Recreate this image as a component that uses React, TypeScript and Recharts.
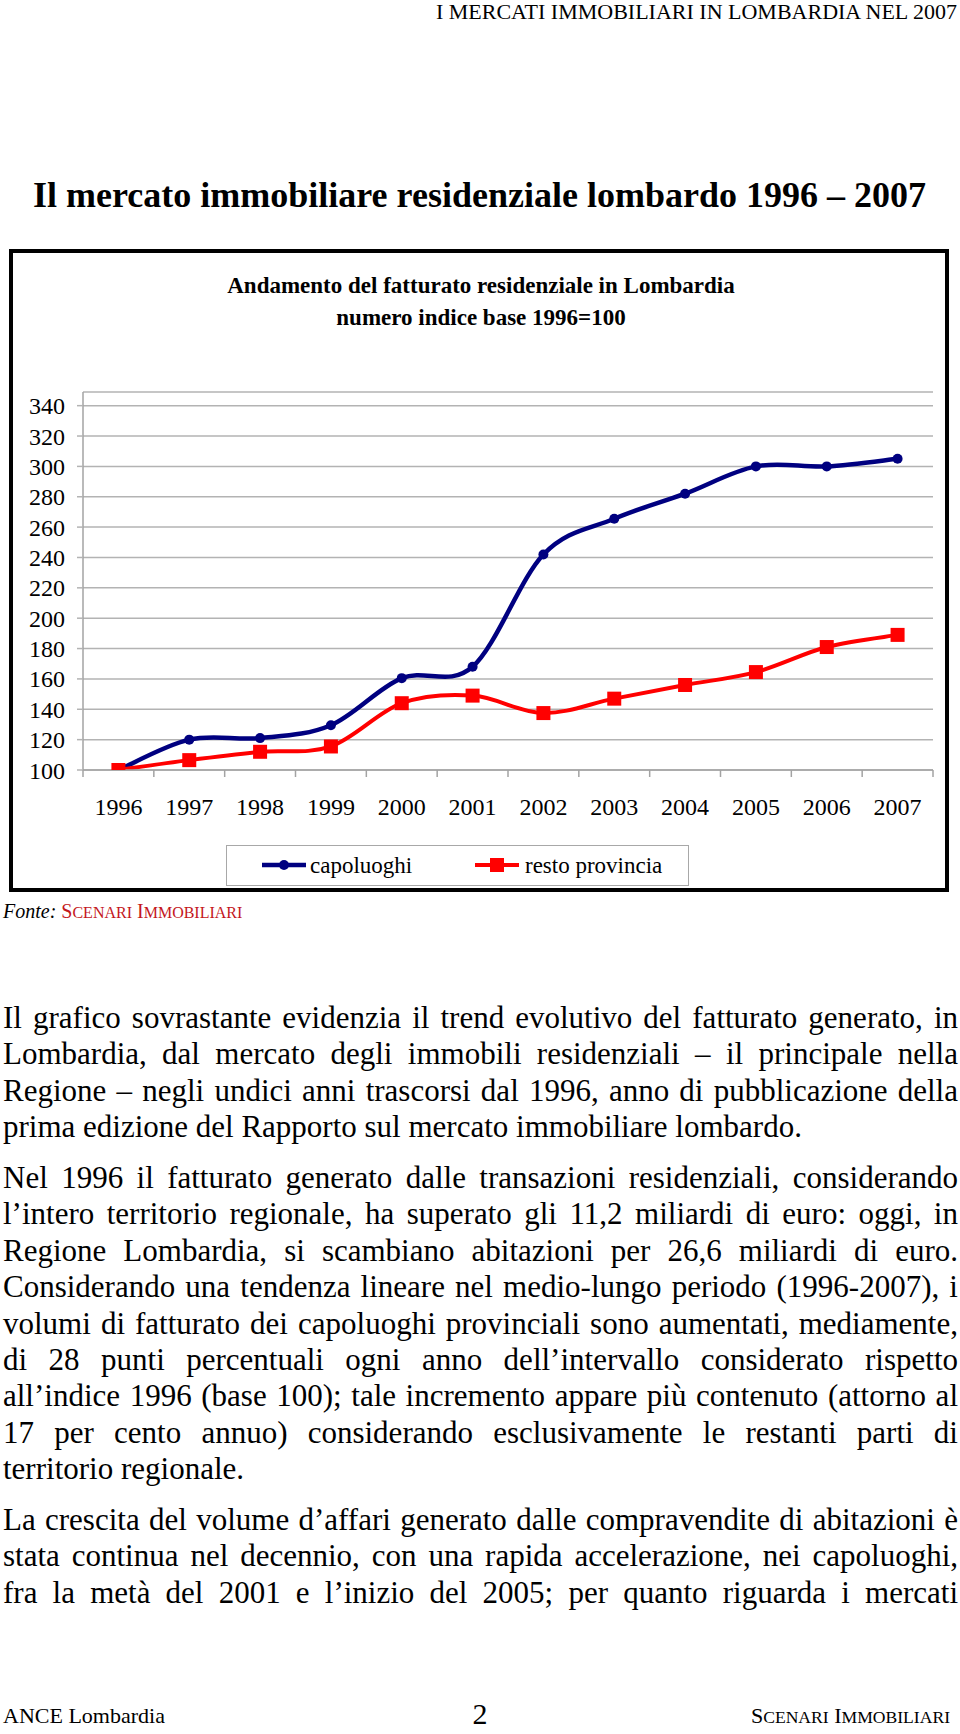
import React from 'react';
import { LineChart, Line, XAxis, YAxis, CartesianGrid, Legend } from 'recharts';

const SERIF = '"Liberation Serif", "Times New Roman", Times, serif';
const BLUE = '#000080';
const RED = '#ff0000';
const GRID = '#b3b3b3';
const AXIS = '#a3a3a3';

// ---- chart data ----
const years = ['1996', '1997', '1998', '1999', '2000', '2001', '2002', '2003', '2004', '2005', '2006', '2007'];
const capoluoghi = [100, 120, 121, 129.5, 160.5, 168, 242, 265.5, 282, 300, 300, 305];
const restoProvincia = [100, 106.5, 112, 115.5, 144, 149, 137.5, 147, 156, 164.5, 181, 189];
const yTicks = [100, 120, 140, 160, 180, 200, 220, 240, 260, 280, 300, 320, 340];
const seriesLabels = ['capoluoghi', 'resto provincia'];

const chartData = years.map((year, i) => ({
  idx: i,
  year,
  capoluoghi: capoluoghi[i],
  resto: restoProvincia[i],
}));

// ticks: integers carry year labels, half-integers are the category boundaries (tick marks)
const xTicks: number[] = [];
years.forEach((_, i) => {
  xTicks.push(i - 0.5, i);
});
xTicks.push(years.length - 0.5);

// Excel-like smoothed line (Catmull-Rom style bezier)
function excelSmooth(context: any) {
  let pts: number[][] = [];
  return {
    areaStart() {},
    areaEnd() {},
    lineStart() {
      pts = [];
    },
    point(x: number, y: number) {
      pts.push([+x, +y]);
    },
    lineEnd() {
      const n = pts.length;
      if (n === 0) return;
      context.moveTo(pts[0][0], pts[0][1]);
      if (n === 1) {
        context.lineTo(pts[0][0], pts[0][1]);
        return;
      }
      for (let i = 0; i < n - 1; i++) {
        const p0 = pts[Math.max(0, i - 1)];
        const p1 = pts[i];
        const p2 = pts[i + 1];
        const p3 = pts[Math.min(n - 1, i + 2)];
        context.bezierCurveTo(
          p1[0] + (p2[0] - p0[0]) / 6,
          p1[1] + (p2[1] - p0[1]) / 6,
          p2[0] - (p3[0] - p1[0]) / 6,
          p2[1] - (p3[1] - p1[1]) / 6,
          p2[0],
          p2[1]
        );
      }
    },
  };
}

const renderXTick = (props: any) => {
  const { x, y, payload, index } = props;
  const v = payload.value;
  if (Number.isInteger(v)) {
    return (
      <text key={`xt-${index}`} x={x} y={y + 45} textAnchor="middle" fontSize={24} fontFamily={SERIF} fill="#000">
        {years[v]}
      </text>
    );
  }
  return <line key={`xl-${index}`} x1={x} y1={y} x2={x} y2={y + 7} stroke={AXIS} strokeWidth={1.5} />;
};

const renderSquare = (props: any) => {
  const { cx, cy, index } = props;
  if (cx == null || cy == null) return <g key={`sq-${index}`} />;
  return <rect key={`sq-${index}`} x={cx - 7} y={cy - 7} width={14} height={14} fill={RED} />;
};

const renderLegend = (props: any) => {
  const payload = props.payload || [];
  const names = payload.length ? payload.map((p: any) => p.value) : seriesLabels;
  return (
    <div
      style={{
        position: 'relative',
        width: 463,
        height: 41,
        boxSizing: 'border-box',
        border: '1px solid #a8a8a8',
        background: '#fff',
        fontFamily: SERIF,
      }}
    >
      <svg style={{ position: 'absolute', left: 35, top: 9 }} width={44} height={20}>
        <line x1={0} y1={10} x2={44} y2={10} stroke={BLUE} strokeWidth={4.5} />
        <circle cx={22} cy={10} r={5} fill={BLUE} />
      </svg>
      <span style={{ position: 'absolute', left: 83, top: 7.7, fontSize: 23, lineHeight: '23px', whiteSpace: 'nowrap' }}>
        {names[0]}
      </span>
      <svg style={{ position: 'absolute', left: 248, top: 9 }} width={44} height={20}>
        <line x1={0} y1={10} x2={44} y2={10} stroke={RED} strokeWidth={4} />
        <rect x={15} y={3} width={14} height={14} fill={RED} />
      </svg>
      <span style={{ position: 'absolute', left: 298, top: 7.7, fontSize: 23, lineHeight: '23px', whiteSpace: 'nowrap' }}>
        {names[1]}
      </span>
    </div>
  );
};

const SmallCaps = ({ text, size }: { text: string; size: number }) => (
  <>
    {text.split(' ').map((w, i) => (
      <React.Fragment key={i}>
        {i > 0 ? ' ' : ''}
        {w[0]}
        <span style={{ fontSize: size * 0.8 }}>{w.slice(1).toUpperCase()}</span>
      </React.Fragment>
    ))}
  </>
);

const PF = 31;
const paraLines: { t: string; b: number; last?: boolean }[] = [
  { t: 'Il grafico sovrastante evidenzia il trend evolutivo del fatturato generato, in', b: 1028 },
  { t: 'Lombardia, dal mercato degli immobili residenziali – il principale nella', b: 1064.4 },
  { t: 'Regione – negli undici anni trascorsi dal 1996, anno di pubblicazione della', b: 1100.8 },
  { t: 'prima edizione del Rapporto sul mercato immobiliare lombardo.', b: 1137.2, last: true },
  { t: 'Nel 1996 il fatturato generato dalle transazioni residenziali, considerando', b: 1188 },
  { t: 'l’intero territorio regionale, ha superato gli 11,2 miliardi di euro: oggi, in', b: 1224.4 },
  { t: 'Regione Lombardia, si scambiano abitazioni per 26,6 miliardi di euro.', b: 1260.8 },
  { t: 'Considerando una tendenza lineare nel medio-lungo periodo (1996-2007), i', b: 1297.2 },
  { t: 'volumi di fatturato dei capoluoghi provinciali sono aumentati, mediamente,', b: 1333.6 },
  { t: 'di 28 punti percentuali ogni anno dell’intervallo considerato rispetto', b: 1370 },
  { t: 'all’indice 1996 (base 100); tale incremento appare più contenuto (attorno al', b: 1406.4 },
  { t: '17 per cento annuo) considerando esclusivamente le restanti parti di', b: 1442.8 },
  { t: 'territorio regionale.', b: 1479.2, last: true },
  { t: 'La crescita del volume d’affari generato dalle compravendite di abitazioni è', b: 1530 },
  { t: 'stata continua nel decennio, con una rapida accelerazione, nei capoluoghi,', b: 1566.4 },
  { t: 'fra la metà del 2001 e l’inizio del 2005; per quanto riguarda i mercati', b: 1602.8 },
];

const top = (baseline: number, size: number) => baseline - 0.8375 * size;

export default function App() {
  return (
    <div
      style={{
        position: 'absolute',
        left: 0,
        top: 0,
        width: 960,
        height: 1734,
        overflow: 'hidden',
        background: '#fff',
        fontFamily: SERIF,
        color: '#000',
      }}
    >
      {/* running header */}
      <div
        style={{
          position: 'absolute',
          right: 3,
          top: 0,
          fontSize: 22,
          lineHeight: '24px',
          whiteSpace: 'nowrap',
        }}
      >
        I MERCATI IMMOBILIARI IN LOMBARDIA NEL 2007
      </div>

      {/* page title */}
      <div
        style={{
          position: 'absolute',
          left: 33,
          top: top(207, 36),
          fontSize: 36,
          lineHeight: '36px',
          fontWeight: 'bold',
          whiteSpace: 'nowrap',
        }}
      >
        Il mercato immobiliare residenziale lombardo 1996 – 2007
      </div>

      {/* chart frame */}
      <div
        style={{
          position: 'absolute',
          left: 9,
          top: 249,
          width: 940,
          height: 643,
          border: '4px solid #000',
          boxSizing: 'border-box',
        }}
      />

      {/* chart title */}
      <div
        style={{
          position: 'absolute',
          left: 9,
          width: 944,
          top: top(293, 23),
          fontSize: 23,
          lineHeight: '23px',
          fontWeight: 'bold',
          textAlign: 'center',
          whiteSpace: 'nowrap',
        }}
      >
        Andamento del fatturato residenziale in Lombardia
      </div>
      <div
        style={{
          position: 'absolute',
          left: 9,
          width: 944,
          top: top(325, 23),
          fontSize: 23,
          lineHeight: '23px',
          fontWeight: 'bold',
          textAlign: 'center',
          whiteSpace: 'nowrap',
        }}
      >
        numero indice base 1996=100
      </div>

      {/* chart */}
      <div style={{ position: 'absolute', left: 0, top: 380, width: 960, height: 520 }}>
        <LineChart width={960} height={520} data={chartData} margin={{ top: 12, right: 27, bottom: 0, left: 0 }}>
          <CartesianGrid vertical={false} stroke={GRID} strokeWidth={1.5} />
          <XAxis
            dataKey="idx"
            type="number"
            domain={[-0.5, years.length - 0.5]}
            ticks={xTicks}
            interval={0}
            allowDecimals
            tickSize={0}
            tickMargin={0}
            tickLine={false}
            axisLine={{ stroke: AXIS, strokeWidth: 1.5 }}
            tick={renderXTick}
            height={130}
          />
          <YAxis
            type="number"
            domain={[100, 349]}
            ticks={yTicks}
            interval={0}
            width={83}
            tickSize={6}
            tickMargin={12}
            tickLine={{ stroke: GRID, strokeWidth: 1.5 }}
            axisLine={{ stroke: AXIS, strokeWidth: 1.5 }}
            tick={{ fontSize: 24, fill: '#000', fontFamily: SERIF }}
            allowDataOverflow
          />
          <Legend
            content={renderLegend}
            layout="horizontal"
            verticalAlign="middle"
            align="center"
            wrapperStyle={{ left: 226, top: 465, width: 463, height: 41 }}
          />
          <Line
            dataKey="capoluoghi"
            name={seriesLabels[0]}
            type={excelSmooth as any}
            stroke={BLUE}
            strokeWidth={4.5}
            dot={{ r: 5, fill: BLUE, stroke: BLUE, strokeWidth: 0 }}
            activeDot={false}
            isAnimationActive={false}
          />
          <Line
            dataKey="resto"
            name={seriesLabels[1]}
            type={excelSmooth as any}
            stroke={RED}
            strokeWidth={4}
            dot={renderSquare}
            activeDot={false}
            isAnimationActive={false}
          />
        </LineChart>
      </div>

      {/* source */}
      <div
        style={{
          position: 'absolute',
          left: 3,
          top: top(918, 20),
          fontSize: 20,
          lineHeight: '20px',
          whiteSpace: 'nowrap',
        }}
      >
        <i>Fonte:</i>{' '}
        <span style={{ color: '#c4161c' }}>
          <SmallCaps text="Scenari Immobiliari" size={20} />
        </span>
      </div>

      {/* body text */}
      {paraLines.map((l, i) => (
        <div
          key={i}
          style={{
            position: 'absolute',
            left: 3,
            width: 955,
            top: top(l.b, PF),
            fontSize: PF,
            lineHeight: `${PF}px`,
            textAlign: l.last ? 'left' : 'justify',
            textAlignLast: l.last ? 'left' : 'justify',
          } as React.CSSProperties}
        >
          {l.t}
        </div>
      ))}

      {/* footer */}
      <div
        style={{
          position: 'absolute',
          left: 3,
          top: top(1723, 22),
          fontSize: 22,
          lineHeight: '22px',
          whiteSpace: 'nowrap',
        }}
      >
        ANCE Lombardia
      </div>
      <div
        style={{
          position: 'absolute',
          left: 0,
          width: 960,
          textAlign: 'center',
          top: 1697,
          fontSize: 30,
          lineHeight: '34px',
        }}
      >
        2
      </div>
      <div
        style={{
          position: 'absolute',
          right: 10,
          top: top(1723, 22),
          fontSize: 22,
          lineHeight: '22px',
          whiteSpace: 'nowrap',
        }}
      >
        <SmallCaps text="Scenari Immobiliari" size={22} />
      </div>
    </div>
  );
}
